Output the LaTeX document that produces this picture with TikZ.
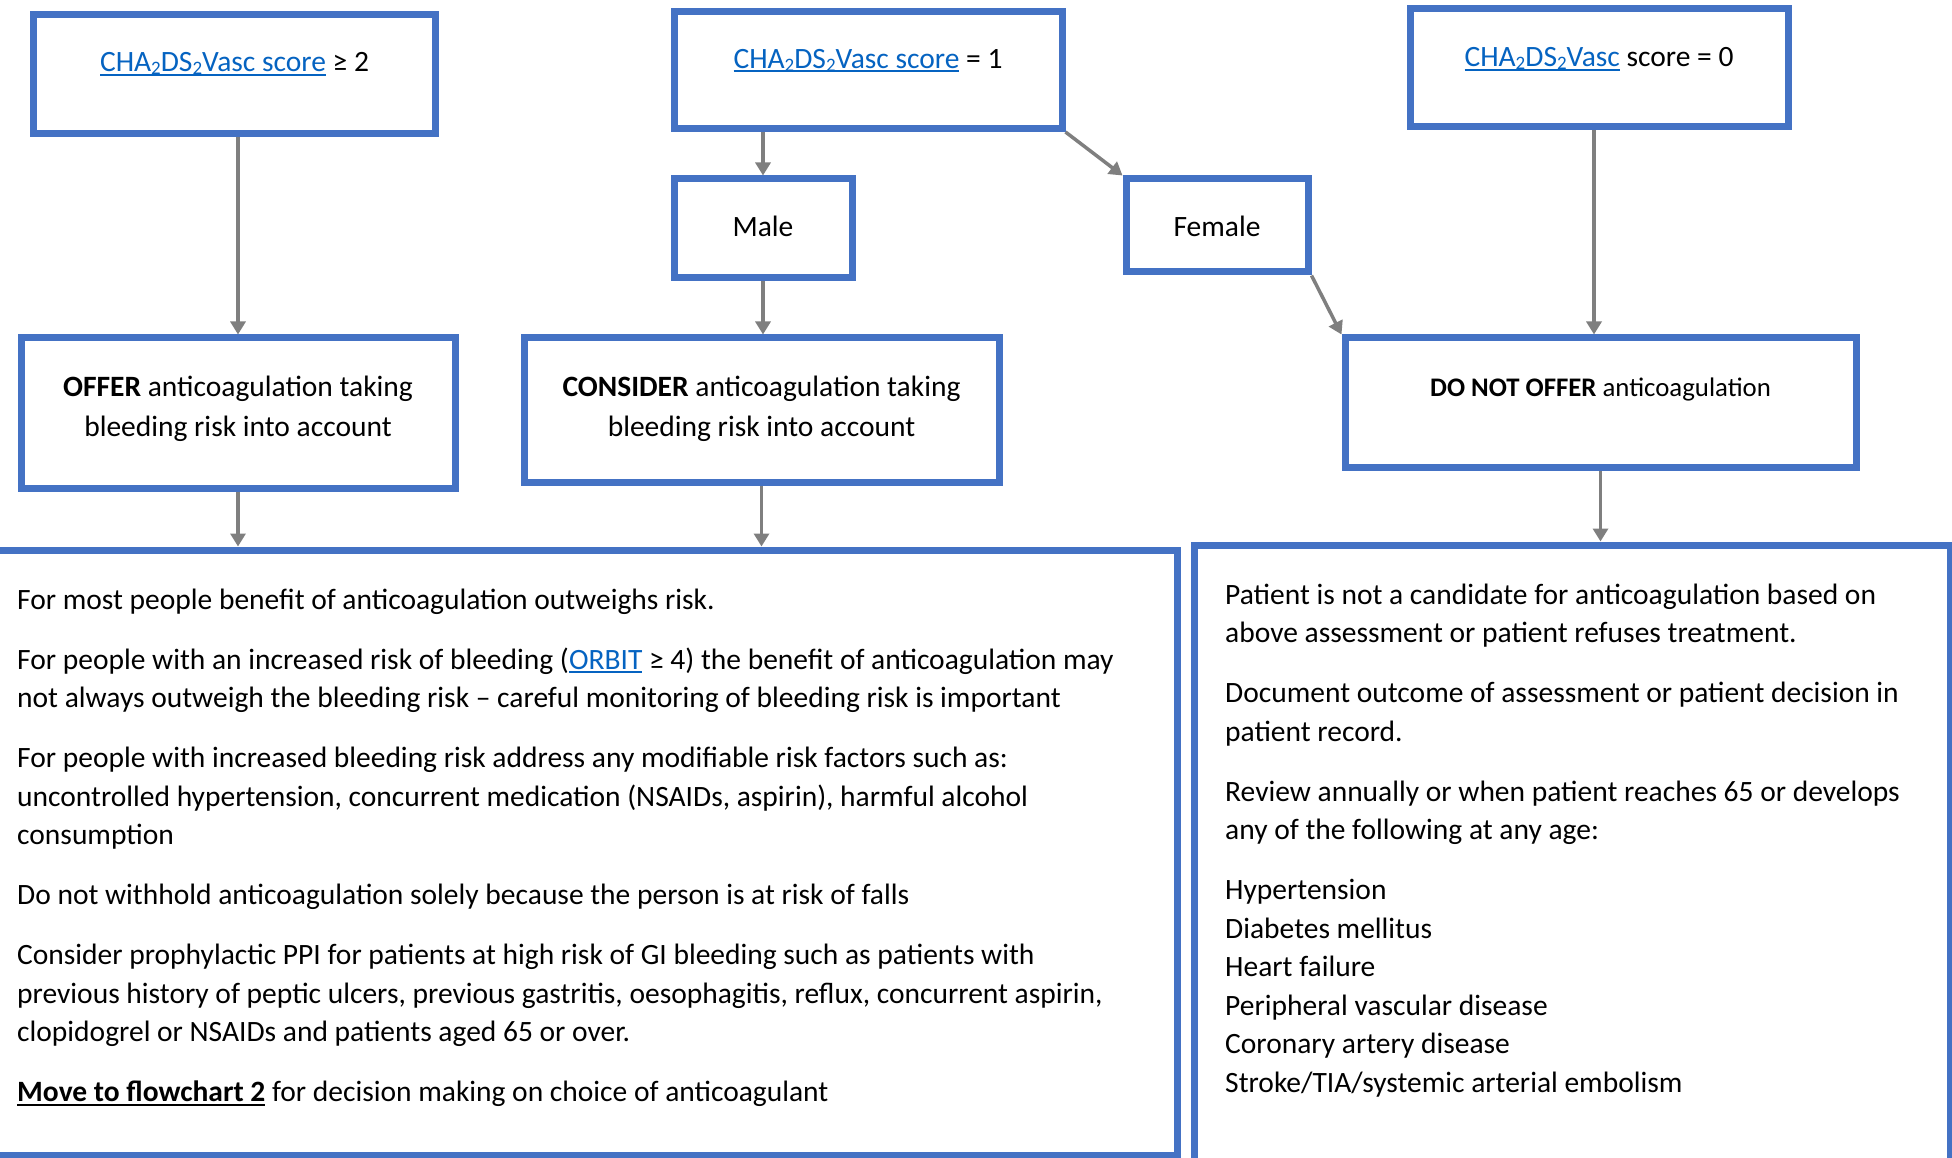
\documentclass[tikz,border=0pt]{standalone}
\usepackage{fontspec}
\setmainfont{Carlito}
\usetikzlibrary{arrows.meta}
\definecolor{boxblue}{HTML}{4472C4}
\definecolor{arrgray}{HTML}{7F7F7F}
\definecolor{linkblue}{HTML}{0563C1}
\newcommand\myul[1]{\setbox0=\hbox{#1}\rlap{\rule[-4pt]{\wd0}{2pt}}\box0}
\newcommand\lnk[1]{{\color{linkblue}\myul{#1}}}
\newcommand\subtwo{\raisebox{-3pt}{\fontsize{19}{19}\selectfont 2}}
\newcommand\cha{CHA\subtwo DS\subtwo Vasc}
\newcommand\tstrut{\rule{0pt}{22pt}}
\begin{document}
\begin{tikzpicture}[x=1pt,y=-1pt,
  bx/.style={draw=boxblue, line width=7pt, rectangle, inner sep=0pt, fill=white},
  arr/.style={draw=arrgray, line width=3.5pt, -{Triangle[length=13pt,width=15pt]}},
  txt/.style={inner sep=0pt, font=\fontsize{29.5}{38.5}\selectfont},
  txtc/.style={inner sep=0pt, align=center, font=\fontsize{29.5}{40}\selectfont},
]
\useasboundingbox (0,0) rectangle (1952,1158);
\clip (0,0) rectangle (1952,1158);
% boxes
\node[bx, minimum width=402pt, minimum height=119pt] (b1) at (234.5,74) {};
\node[bx, minimum width=388pt, minimum height=117pt] (b2) at (868,70) {};
\node[bx, minimum width=378pt, minimum height=118pt] (b3) at (1599,67.5) {};
\node[bx, minimum width=178pt, minimum height=99pt] (male) at (763,228.5) {};
\node[bx, minimum width=182pt, minimum height=93pt] (female) at (1217,225.5) {};
\node[bx, minimum width=434pt, minimum height=150pt] (offer) at (238,413) {};
\node[bx, minimum width=475pt, minimum height=144pt] (consider) at (761.5,410) {};
\node[bx, minimum width=511pt, minimum height=129pt] (dno) at (1600.5,402.5) {};
\node[bx, minimum width=1197pt, minimum height=605pt] (lbox) at (578.5,852.5) {};
\node[bx, minimum width=756pt, minimum height=655pt] (rbox) at (1572,872.5) {};
% texts
\node[txt, anchor=base] (t1) at (234.5,72) {\lnk{\cha\ score} ≥ 2};
\node[txt, anchor=base] (t2) at (868,68.5) {\lnk{\cha\ score} = 1};
\node[txt, anchor=base] (t3) at (1599,67) {\lnk{\cha} score = 0};
\node[txt, anchor=base] (tmale) at (763,236.5) {Male};
\node[txt, anchor=base] (tfemale) at (1217,236.5) {Female};
\node[txtc, anchor=north] (toffer) at (238,374) {\tstrut\textbf{OFFER} anticoagulation taking\\bleeding risk into account};
\node[txtc, anchor=north] (tconsider) at (761.5,374) {\tstrut\textbf{CONSIDER} anticoagulation taking\\bleeding risk into account};
\node[txtc, anchor=north, font=\fontsize{26.8}{40}\selectfont] (tdno) at (1600.5,374) {\tstrut\textbf{DO NOT OFFER} anticoagulation};
\node[txt, align=left, anchor=north west] (tleft) at (17,587) {\tstrut For most people benefit of anticoagulation outweighs risk.\\[21.5pt]
For people with an increased risk of bleeding (\lnk{ORBIT} ≥ 4) the benefit of anticoagulation may\\
not always outweigh the bleeding risk – careful monitoring of bleeding risk is important\\[21.5pt]
For people with increased bleeding risk address any modifiable risk factors such as:\\
uncontrolled hypertension, concurrent medication (NSAIDs, aspirin), harmful alcohol\\
consumption\\[21.5pt]
Do not withhold anticoagulation solely because the person is at risk of falls\\[21.5pt]
Consider prophylactic PPI for patients at high risk of GI bleeding such as patients with\\
previous history of peptic ulcers, previous gastritis, oesophagitis, reflux, concurrent aspirin,\\
clopidogrel or NSAIDs and patients aged 65 or over.\\[21.5pt]
\textbf{\myul{Move to flowchart 2}} for decision making on choice of anticoagulant};
\node[txt, align=left, anchor=north west] (tright) at (1225,582) {\tstrut Patient is not a candidate for anticoagulation based on\\
above assessment or patient refuses treatment.\\[21.5pt]
Document outcome of assessment or patient decision in\\
patient record.\\[21.5pt]
Review annually or when patient reaches 65 or develops\\
any of the following at any age:\\[21.5pt]
Hypertension\\
Diabetes mellitus\\
Heart failure\\
Peripheral vascular disease\\
Coronary artery disease\\
Stroke/TIA/systemic arterial embolism};
% connectors
\draw[arr] (offer.north |- b1.south) -- (offer.north);
\draw[arr] (male.north |- b2.south) -- (male.north);
\draw[arr] (b2.south east) -- (female.north west);
\draw[arr] (male.south) -- (male.south |- consider.north);
\draw[arr] (female.south east) -- (dno.north west);
\draw[arr] ([xshift=-5pt]b3.south) -- ([xshift=-5pt]b3.south |- dno.north);
\draw[arr] (offer.south) -- (offer.south |- lbox.north);
\draw[arr] (consider.south) -- (consider.south |- lbox.north);
\draw[arr] (dno.south) -- (dno.south |- rbox.north);
\end{tikzpicture}
\end{document}
